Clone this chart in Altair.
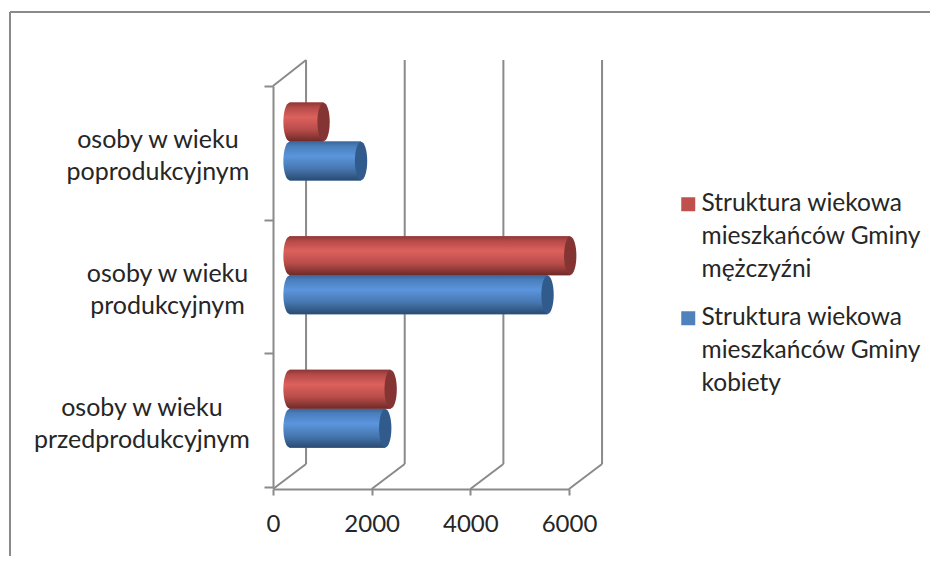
import altair as alt
import pandas as pd

categories = ["osoby w wieku poprodukcyjnym", "osoby w wieku produkcyjnym", "osoby w wieku przedprodukcyjnym"]
men = [690, 5690, 2050]
women = [1450, 5230, 1940]
SER_M = "Struktura wiekowa mieszkańców Gminy mężczyźni"
SER_W = "Struktura wiekowa mieszkańców Gminy kobiety"
series = [SER_M, SER_W]
ticks = [0, 2000, 4000, 6000]

FONT = "Lato"
GRAY = "#8a8a8a"
TXT = "#262626"
HALF_DEPTH = 335
ELLIPSE = "M0,-1 A0.32,1 0 1 1 0,1 A0.32,1 0 1 1 0,-1 Z"

rows = []
for c, m, w in zip(categories, men, women):
    rows.append({"cat": c, "series": SER_M, "value": m})
    rows.append({"cat": c, "series": SER_W, "value": w})
df = pd.DataFrame(rows)
df["start"] = HALF_DEPTH
df["end"] = df["value"] + HALF_DEPTH
tick_df = pd.DataFrame({"v": ticks})
tick_df["back"] = tick_df["v"] + 2 * HALF_DEPTH

x_scale = alt.Scale(domain=[0, 6000], nice=False, zero=False)
y_scale = alt.Scale(domain=categories, paddingInner=0, paddingOuter=0)
off_scale = alt.Scale(domain=series, range=[16.5, 94.5], paddingInner=0, paddingOuter=0)
color_scale = alt.Scale(domain=series, range=["#C0504D", "#4F81BD"])

def grad(stops):
    return alt.LinearGradient(
        gradient="linear", x1=0, y1=0, x2=0, y2=1,
        stops=[alt.GradientStop(offset=o, color=c) for o, c in stops],
    )

RED = grad([(0, "#8a3735"), (0.12, "#b44a47"), (0.38, "#dc615d"), (0.7, "#b84c49"), (1, "#6e2a28")])
BLUE = grad([(0, "#3a6598"), (0.12, "#4a7fbd"), (0.38, "#5b95dc"), (0.7, "#4677b0"), (1, "#2a4a70")])

PAD_TOP = "\u00a0" * 3 + "\u200b"
PAD_BOTTOM = "\u00a0" * 8 + "\u200b"

Y = alt.Y("cat:N", scale=y_scale, sort=categories, title=None,
          axis=alt.Axis(
              domainColor=GRAY, domainWidth=2, tickColor=GRAY, tickWidth=2, tickSize=9,
              tickBand="extent", grid=False, labelFont=FONT, labelFontSize=25, labelColor=TXT,
              labelAlign="center", labelBaseline="middle", labelPadding=97, labelLineHeight=32, labelLimit=400,
              labelOffset=-13,
              labelExpr="datum.label == 'osoby w wieku produkcyjnym' ? ['osoby w wieku','produkcyjnym'] : "
                        f"datum.label == 'osoby w wieku poprodukcyjnym' ? ['osoby w wieku{PAD_TOP}','poprodukcyjnym{PAD_TOP}'] : "
                        f"datum.label == 'osoby w wieku przedprodukcyjnym' ? ['osoby w wieku{PAD_BOTTOM}','przedprodukcyjnym{PAD_BOTTOM}'] : ''",
          ))
YOFF = alt.YOffset("series:N", scale=off_scale)

base_bars = alt.Chart(df).mark_bar(size=39, opacity=1).encode(
    x=alt.X("start:Q", scale=x_scale, title=None,
            axis=alt.Axis(values=ticks, domainColor=GRAY, domainWidth=2, tickColor=GRAY, tickWidth=2,
                          tickSize=6, grid=False, offset=2, labelFont=FONT, labelFontSize=24,
                          labelColor=TXT, labelPadding=17, labelFlush=False, format="d")),
    x2="end:Q",
    y=Y,
    yOffset=YOFF,
    color=alt.Color("series:N", scale=color_scale, sort=series, title=None,
                    legend=alt.Legend(orient="none", legendX=403, legendY=106, title=None,
                                      symbolType="square", symbolSize=196, symbolStrokeWidth=0,
                                      labelFont=FONT, labelFontSize=24.5, labelColor=TXT, labelLimit=400,
                                      labelOffset=1, rowPadding=23,
                                      labelExpr="datum.label == '" + SER_M + "' ? "
                                                "['Struktura wiekowa','mieszkańców Gminy','mężczyźni'] : "
                                                "['Struktura wiekowa','mieszkańców Gminy','kobiety']")),
)

layers = []

# walls and floor lines
layers.append(alt.Chart(tick_df).mark_rule(color=GRAY, strokeWidth=2).encode(
    x=alt.X("back:Q", scale=x_scale), y=alt.value(-26), y2=alt.value(378)))
layers.append(alt.Chart(tick_df).mark_rule(color=GRAY, strokeWidth=2).encode(
    x=alt.X("v:Q", scale=x_scale), x2="back:Q", y=alt.value(403), y2=alt.value(378)))
layers.append(alt.Chart(tick_df[tick_df.v == 0]).mark_rule(color=GRAY, strokeWidth=2).encode(
    x=alt.X("v:Q", scale=x_scale), x2="back:Q", y=alt.value(0), y2=alt.value(-26)))
# outer frame
layers.append(alt.Chart(tick_df[tick_df.v == 0]).mark_rule(color=GRAY, strokeWidth=2).encode(
    x=alt.value(-263), x2=alt.value(657), y=alt.value(-74)))
layers.append(alt.Chart(tick_df[tick_df.v == 0]).mark_rule(color=GRAY, strokeWidth=2).encode(
    x=alt.value(-263), y=alt.value(-74), y2=alt.value(470)))

layers.append(base_bars)

for name, g, cap in [(SER_W, BLUE, "#315b8c"), (SER_M, RED, "#843533")]:
    d = df[df.series == name]
    layers.append(alt.Chart(d).mark_point(shape=ELLIPSE, size=1482, filled=True, fill=g, opacity=1, strokeWidth=0).encode(
        x=alt.X("start:Q", scale=x_scale), y=Y, yOffset=YOFF))
    layers.append(alt.Chart(d).mark_bar(size=39, fill=g, opacity=1).encode(
        x=alt.X("start:Q", scale=x_scale), x2="end:Q", y=Y, yOffset=YOFF))
    layers.append(alt.Chart(d).mark_point(shape=ELLIPSE, size=1482, filled=True, fill=cap, opacity=1, strokeWidth=0).encode(
        x=alt.X("end:Q", scale=x_scale), y=Y, yOffset=YOFF))

chart = alt.layer(*layers).properties(
    width=296, height=401,
    padding={"left": 265, "top": 78, "right": 361, "bottom": 69},
    autosize=alt.AutoSizeParams(type="none"),
    background="white",
    config=alt.Config(view=alt.ViewConfig(strokeWidth=0), style={"guide-label": {"lineHeight": 33}}),
)

chart.save("out.html", embed_options={"renderer": "svg", "actions": False})
